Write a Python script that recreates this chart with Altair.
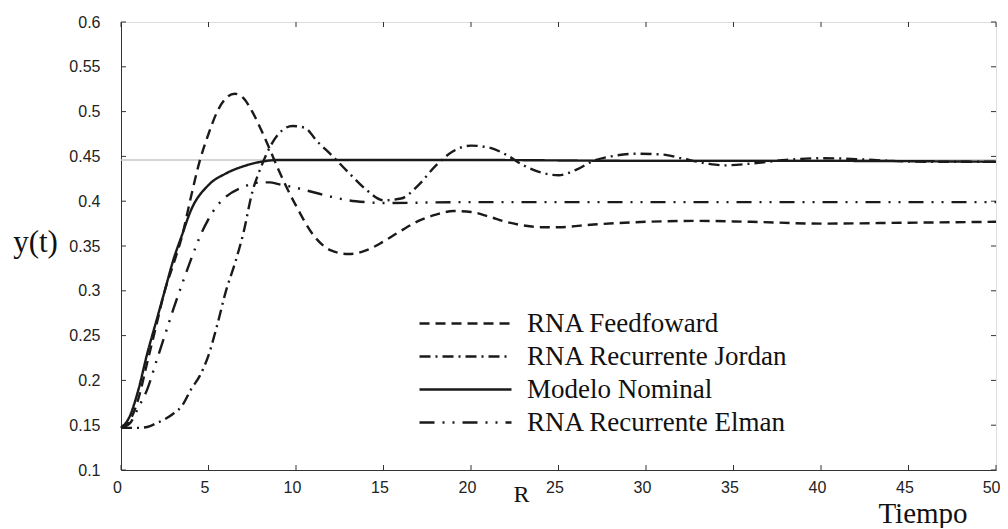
import altair as alt
import pandas as pd

# ---------------- data ----------------
series_names = ["RNA Feedfoward", "RNA Recurrente Jordan", "Modelo Nominal", "RNA Recurrente Elman"]

ff_t = [0, 0.5, 1, 1.5, 2, 2.5, 3, 3.5, 4, 4.5, 5, 5.5, 6, 6.5, 7, 7.5, 8, 8.5, 9, 10, 11, 12, 13,
        14, 15, 16, 17, 18, 19, 20, 21, 22, 23, 24, 25, 27, 30, 33, 36, 40, 45, 50]
ff_y = [0.147, 0.155, 0.18, 0.22, 0.26, 0.30, 0.33, 0.362, 0.405, 0.445, 0.475, 0.500, 0.515, 0.520,
        0.515, 0.500, 0.480, 0.458, 0.435, 0.395, 0.362, 0.345, 0.341, 0.345, 0.355, 0.367, 0.378,
        0.385, 0.389, 0.388, 0.383, 0.377, 0.373, 0.371, 0.371, 0.374, 0.377, 0.378, 0.377, 0.375,
        0.376, 0.377]

jo_t = [0, 1, 1.5, 2, 3, 3.5, 4, 4.5, 5, 5.5, 6, 6.5, 7, 7.5, 8, 8.5, 9, 9.8, 10.5, 11.2, 12, 13,
        14, 15, 16, 17, 18, 19, 20, 21, 22, 23, 24, 25, 26, 27, 28, 29.5, 31, 32, 33.5, 34.5, 36,
        38, 40, 42, 44, 46, 50]
jo_y = [0.147, 0.147, 0.148, 0.152, 0.163, 0.172, 0.19, 0.205, 0.228, 0.262, 0.30, 0.33, 0.365,
        0.41, 0.438, 0.46, 0.475, 0.484, 0.482, 0.467, 0.452, 0.432, 0.413, 0.401, 0.403, 0.418,
        0.44, 0.456, 0.462, 0.46, 0.452, 0.44, 0.432, 0.429, 0.435, 0.445, 0.45, 0.453, 0.452,
        0.448, 0.442, 0.44, 0.442, 0.446, 0.448, 0.447, 0.445, 0.444, 0.444]

nom_t = [0, 0.5, 1, 1.5, 2, 2.5, 3, 3.5, 4, 5, 6, 7, 8, 9, 10, 15, 20, 30, 40, 50]
nom_y = [0.147, 0.16, 0.19, 0.23, 0.265, 0.30, 0.335, 0.363, 0.39, 0.418, 0.431, 0.439, 0.444,
         0.446, 0.446, 0.446, 0.446, 0.445, 0.445, 0.444]

el_t = [0, 0.5, 1, 1.5, 2, 2.5, 3, 3.5, 4, 4.5, 5, 5.5, 6, 7, 8, 8.5, 9, 10, 11, 12, 13, 14, 15,
        20, 30, 40, 50]
el_y = [0.147, 0.152, 0.17, 0.19, 0.22, 0.25, 0.28, 0.308, 0.335, 0.36, 0.38, 0.395, 0.405, 0.416,
        0.421, 0.421, 0.419, 0.415, 0.41, 0.405, 0.401, 0.399, 0.398, 0.399, 0.399, 0.399, 0.399]

ref_value = [0.446]
x_ticks = [0, 5, 10, 15, 20, 25, 30, 35, 40, 45, 50]
y_ticks = [0.1, 0.15, 0.2, 0.25, 0.3, 0.35, 0.4, 0.45, 0.5, 0.55, 0.6]

# ---------------- build table ----------------
rows = []
for name, ts, ys in zip(series_names, [ff_t, jo_t, nom_t, el_t], [ff_y, jo_y, nom_y, el_y]):
    for t, y in zip(ts, ys):
        rows.append({"serie": name, "t": t, "y": y})
df = pd.DataFrame(rows)

W, H = 875, 448
INK = "#1a1a1a"
SERIF = "Liberation Serif"

dash_range = [[10, 6], [11, 5, 2, 5], [1, 0], [15, 8, 2, 8, 2, 8]]
width_range = [2.4, 2.4, 2.0, 2.4]

xscale = alt.Scale(domain=[0, 50], nice=False, zero=False)
yscale = alt.Scale(domain=[0.1, 0.6], nice=False, zero=False)

last_x = "datum.value == 50"
x_axis = alt.Axis(values=x_ticks, format="d", ticks=False, grid=False, labelFont="Liberation Sans",
                  labelFontSize=16, labelColor="#222", labelPadding=9, labelFlush=False,
                  labelAlign={"condition": {"test": last_x, "value": "right"}, "value": "center"},
                  labelOffset={"condition": {"test": last_x, "value": 4}, "value": -4},
                  domainColor="#333", title="R", titleFont=SERIF, titleFontSize=24,
                  titleFontWeight="normal", titleColor="#111", titleX=400, titleY=31,
                  titleAlign="center", titleBaseline="alphabetic")
y_axis = alt.Axis(values=y_ticks, format=".2~f", ticks=False, grid=False, labelFont="Liberation Sans",
                  labelFontSize=16, labelColor="#222", labelPadding=21, labelFlush=False,
                  domainColor="#333", title="y(t)", titleFont=SERIF, titleFontSize=31,
                  titleFontWeight="normal", titleColor="#111", titleAngle=0, titleX=-86, titleY=220,
                  titleAlign="center", titleBaseline="middle")


def X(field):
    return alt.X(field, scale=xscale, axis=x_axis, title="R")


def Y(field):
    return alt.Y(field, scale=yscale, axis=y_axis, title="y(t)")


ref = alt.Chart(pd.DataFrame({"r": ref_value})).mark_rule(color="#c6c6c6", strokeWidth=1.5).encode(
    y=Y("r:Q"))

ydf = pd.DataFrame({"v": y_ticks})
xdf = pd.DataFrame({"v": x_ticks})
tick_style = dict(color="#333", strokeWidth=1)
tl = alt.Chart(ydf).mark_rule(**tick_style).encode(y=Y("v:Q"), x=alt.value(0), x2=alt.value(5))
tr = alt.Chart(ydf).mark_rule(**tick_style).encode(y=Y("v:Q"), x=alt.value(W - 5), x2=alt.value(W))
tb = alt.Chart(xdf).mark_rule(**tick_style).encode(x=X("v:Q"), y=alt.value(H - 5), y2=alt.value(H))
tt = alt.Chart(xdf).mark_rule(**tick_style).encode(x=X("v:Q"), y=alt.value(0), y2=alt.value(5))

lines = alt.Chart(df).mark_line(color=INK, interpolate="monotone").encode(
    x=X("t:Q"),
    y=Y("y:Q"),
    detail="serie:N",
    strokeDash=alt.StrokeDash(
        "serie:N",
        scale=alt.Scale(domain=series_names, range=dash_range),
        legend=alt.Legend(title=None, orient="none", legendX=297, legendY=285, symbolType="stroke",
                          symbolSize=8464, symbolStrokeWidth=2.2, symbolStrokeColor=INK,
                          labelFont=SERIF, labelFontSize=27, labelColor="#111",
                          labelOffset=14, clipHeight=33, rowPadding=0, padding=0, labelLimit=500),
    ),
    strokeWidth=alt.StrokeWidth("serie:N", scale=alt.Scale(domain=series_names, range=width_range),
                                legend=None),
)

tiempo = alt.Chart(pd.DataFrame({"lab": ["Tiempo"]})).mark_text(
    font=SERIF, fontSize=29, color="#111", align="center", baseline="alphabetic").encode(
    text="lab:N", x=alt.value(802), y=alt.value(501))

chart = alt.layer(ref, tl, tr, tb, tt, lines, tiempo).properties(
    width=W, height=H,
    autosize=alt.AutoSizeParams(type="none"),
    padding={"left": 113, "top": 14, "right": 4, "bottom": 58},
).configure_view(stroke="#333", strokeWidth=1).configure(background="white").configure_legend(
    labelFont=SERIF, labelFontSize=27)

chart.save("out.html", embed_options={"renderer": "svg", "actions": False})
